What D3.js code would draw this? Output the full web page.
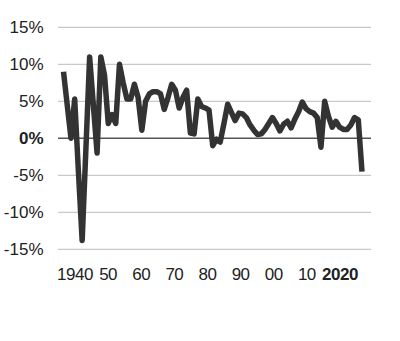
<!DOCTYPE html>
<html>
<head>
<meta charset="utf-8">
<script src="https://cdn.jsdelivr.net/npm/d3@7"></script>
<style>
  html, body { margin: 0; padding: 0; background: #fff; }
  svg { display: block; }
  text { font-family: "Liberation Sans", Arial, Helvetica, sans-serif; fill: #222; }
</style>
</head>
<body>
<svg id="chart" width="400" height="341"></svg>
<script>
// ---- data ----
const startYear = 1940;
const growth = [
  9.0, 4.5, 0.0, 5.3, -4.5, -13.8, -1.5, 11.0, 4.5, -2.0,   // 1940-1949
  11.0, 8.5, 2.0, 3.2, 2.0, 10.0, 7.5, 5.3, 5.3, 7.3,       // 1950-1959
  5.5, 1.1, 5.0, 6.0, 6.3, 6.3, 6.0, 3.9, 5.5, 7.3,         // 1960-1969
  6.5, 4.1, 5.5, 6.5, 0.7, 0.6, 5.3, 4.3, 4.1, 3.8,         // 1970-1979
  -1.0, -0.1, -0.5, 2.0, 4.6, 3.5, 2.4, 3.4, 3.3, 2.8,      // 1980-1989
  1.8, 1.1, 0.5, 0.6, 1.2, 2.0, 2.8, 2.0, 1.0, 1.9,         // 1990-1999
  2.3, 1.4, 2.6, 3.6, 4.9, 4.0, 3.6, 3.4, 2.8, -1.2,        // 2000-2009
  5.0, 3.0, 1.5, 2.3, 1.5, 1.2, 1.2, 1.8, 2.8, 2.5,         // 2010-2019
  -4.5                                                      // 2020
];
const years = growth.map((_, i) => startYear + i);
const yTicks = [15, 10, 5, 0, -5, -10, -15];
const xTickLabels = ["1940", "50", "60", "70", "80", "90", "00", "10", "2020"];

// ---- layout ----
const svg = d3.select("#chart");
const plot = { left: 58, right: 371, top: 27.3, bottom: 249.3 };

const x = d3.scaleLinear().domain([1940, 2020]).range([63.5, 362]);
const y = d3.scaleLinear().domain([-15, 15]).range([plot.bottom, plot.top]);
const xLab = d3.scalePoint().domain(xTickLabels).range([75, 340]);

// gridlines
svg.append("g").selectAll("line")
  .data(yTicks).join("line")
  .attr("x1", plot.left).attr("x2", plot.right)
  .attr("y1", d => y(d)).attr("y2", d => y(d))
  .attr("stroke", d => d === 0 ? "#555" : "#c9c9c9")
  .attr("stroke-width", d => d === 0 ? 1.6 : 1.2);

// y labels
svg.append("g").selectAll("text")
  .data(yTicks).join("text")
  .attr("x", 43.5)
  .attr("y", d => y(d))
  .attr("dy", "0.35em")
  .attr("text-anchor", "end")
  .attr("font-size", 17)
  .attr("font-weight", d => d === 0 ? "bold" : "normal")
  .text(d => d + "%");

// x labels
svg.append("g").selectAll("text")
  .data(xTickLabels).join("text")
  .attr("x", d => xLab(d))
  .attr("y", 280)
  .attr("text-anchor", "middle")
  .attr("font-size", 17)
  .attr("letter-spacing", "-0.5")
  .attr("font-weight", d => d === "2020" ? "bold" : "normal")
  .text(d => d);

// line
const line = d3.line()
  .x((d, i) => x(years[i]))
  .y(d => y(d));

svg.append("path")
  .datum(growth)
  .attr("d", line)
  .attr("fill", "none")
  .attr("stroke", "#333")
  .attr("stroke-width", 5.5)
  .attr("stroke-linejoin", "round")
  .attr("stroke-linecap", "butt");
</script>
</body>
</html>
